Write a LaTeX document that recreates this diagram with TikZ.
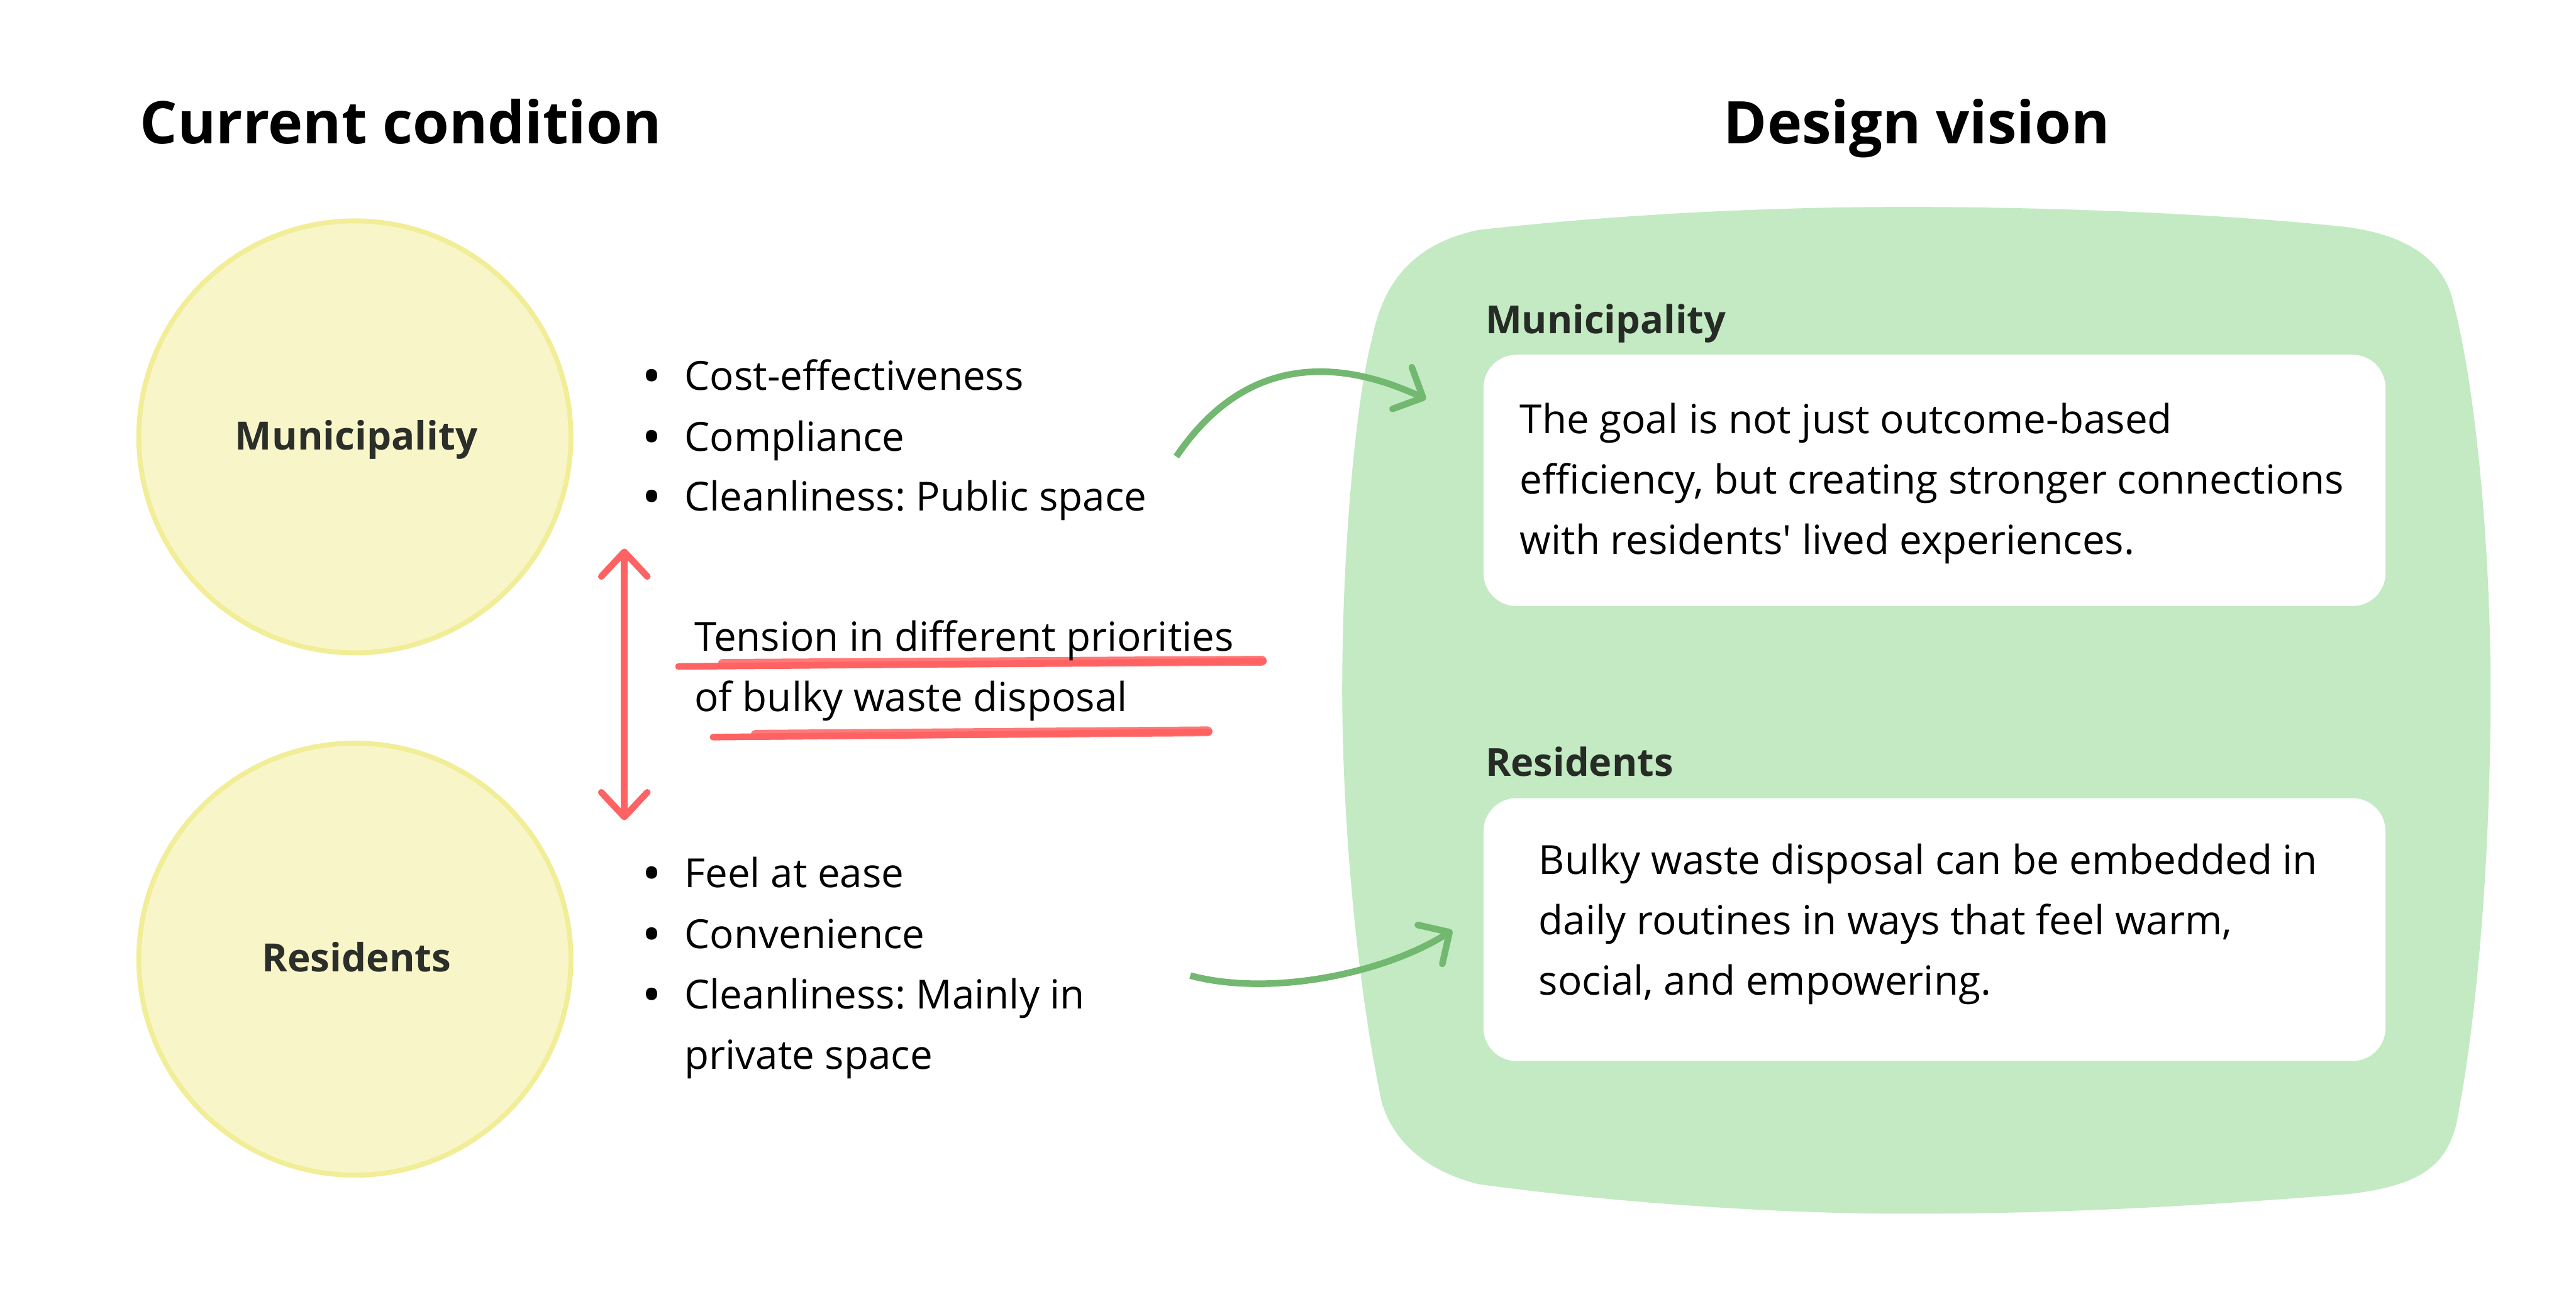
\documentclass[tikz,border=0pt]{standalone}
\usepackage{fontspec}
\setmainfont{Open Sans}[Ligatures=TeXOff]
\usetikzlibrary{arrows.meta}
\definecolor{circfill}{HTML}{F8F6C9}
\definecolor{circline}{HTML}{F2ED97}
\definecolor{blobfill}{HTML}{C3EAC3}
\definecolor{garrow}{HTML}{72B870}
\definecolor{rred}{HTML}{FF6262}
\definecolor{lbl}{HTML}{262B25}
\definecolor{clbl}{HTML}{2B2E29}
\frenchspacing
\begin{document}
\begin{tikzpicture}[x=1pt,y=-1pt,
  titletext/.style={anchor=base west, inner sep=0, font=\fontsize{35.8}{40}\selectfont\bfseries},
  bodytext/.style={anchor=base west, inner sep=0, font=\fontsize{24.4}{30}\selectfont},
  bullettext/.style={anchor=base west, inner sep=0, font=\fontsize{24.4}{30}\selectfont\bfseries},
  labtext/.style={anchor=base west, inner sep=0, text=lbl, font=\fontsize{23.5}{30}\selectfont\bfseries},
  circlabel/.style={anchor=base, inner sep=0, text=clbl, font=\fontsize{23.7}{30}\selectfont\bfseries},
  circ/.style={circle, fill=circfill, draw=circline, line width=3pt, minimum size=263pt, inner sep=0},
  wbox/.style={fill=white, rounded corners=20pt, minimum width=549pt, inner sep=0},
  garr/.style={draw=garrow, line width=4pt, -{Straight Barb[length=14pt,width=28pt,line cap=round,line join=round]}},
  rarr/.style={draw=rred, line width=4pt, line cap=round, {Straight Barb[length=15pt,width=28pt,line cap=round,line join=round]}-{Straight Barb[length=15pt,width=28pt,line cap=round,line join=round]}},
  brush/.style={draw=rred, line cap=round}
]
\useasboundingbox (0,0) rectangle (1568,797);
\fill[white] (0,0) rectangle (1568,797);

% titles
\node[titletext] (tcur) at (85,87.6) {Current condition};
\node[titletext] (tdes) at (1049,87.6) {Design vision};

% circles
\node[circ] (cmun) at (216,266) {};
\node[circ] (cres) at (216,584) {};
\node[circlabel] (lmun) at (217,273.8) {Municipality};
\node[circlabel] (lres) at (217,591.8) {Residents};

% bullets top
\node[bullettext] (b1) at (392,237.7) {•};
\node[bullettext] (b2) at (392,274.7) {•};
\node[bullettext] (b3) at (392,311.2) {•};
\node[bodytext] (m1) at (416.5,237.7) {Cost-effectiveness};
\node[bodytext] (m2) at (416.5,274.7) {Compliance};
\node[bodytext] (m3) at (416.5,311.2) {Cleanliness: Public space};

% bullets bottom
\node[bullettext] (b4) at (392,540.5) {•};
\node[bullettext] (b5) at (392,577.3) {•};
\node[bullettext] (b6) at (392,614.1) {•};
\node[bodytext] (r1) at (416.5,540.5) {Feel at ease};
\node[bodytext] (r2) at (416.5,577.3) {Convenience};
\node[bodytext] (r3) at (416.5,614.1) {Cleanliness: Mainly in};
\node[bodytext] (r4) at (416.5,650.9) {private space};

% tension
\coordinate (rtop) at (380,334);
\coordinate (rbot) at (380,499.4);
\draw[rarr] (rtop) -- (rbot);
\draw[brush, line width=4pt] (413,405.8) -- (600,404.2) -- (769,402.6);
\draw[brush, line width=6pt, opacity=0.85] (440,404.2) -- (768,402.3);
\draw[brush, line width=4pt] (434,448.8) -- (600,447.2) -- (736,445.6);
\draw[brush, line width=6pt, opacity=0.85] (460,447.4) -- (735,445.3);
\node[bodytext] (ten1) at (422.5,396.3) {Tension in different priorities};
\node[bodytext] (ten2) at (422.5,433) {of bulky waste disposal};

% green blob
\fill[blobfill] (900,140) .. controls (990,130) and (1080,126) .. (1160,126)
  .. controls (1260,126) and (1360,131) .. (1426,138)
  .. controls (1470,143) and (1488,162) .. (1493,183)
  .. controls (1508,240) and (1516,340) .. (1516,420)
  .. controls (1516,520) and (1508,620) .. (1495,685)
  .. controls (1488,712) and (1470,722) .. (1430,727)
  .. controls (1330,735) and (1250,739) .. (1160,739)
  .. controls (1080,739) and (980,732) .. (900,721)
  .. controls (868,713) and (848,695) .. (841,671)
  .. controls (826,600) and (817,500) .. (817,420)
  .. controls (817,330) and (826,240) .. (835,207)
  .. controls (842,170) and (862,148) .. (900,140) -- cycle;

\node[labtext] (vmun) at (904,203.2) {Municipality};
\node[labtext] (vres) at (904,472.5) {Residents};

\node[wbox, minimum height=153pt] (box1) at (1177.5,292.5) {};
\node[wbox, minimum height=160pt] (box2) at (1177.5,566) {};

\node[bodytext] (g1) at (925,264.1) {The goal is not just outcome-based};
\node[bodytext] (g2) at (925,300.8) {efficiency, but creating stronger connections};
\node[bodytext] (g3) at (925,337.6) {with residents' lived experiences.};

\node[bodytext] (h1) at (936.5,532.3) {Bulky waste disposal can be embedded in};
\node[bodytext] (h2) at (936.5,569.1) {daily routines in ways that feel warm,};
\node[bodytext] (h3) at (936.5,605.9) {social, and empowering.};

% green arrows
\coordinate (ga1s) at (716,278);
\coordinate (ga1e) at (868,243);
\coordinate (ga2s) at (724.5,594);
\coordinate (ga2e) at (884,566.5);
\draw[garr] (ga1s) .. controls (758,216) and (814,218) .. (ga1e);
\draw[garr] (ga2s) .. controls (773,607) and (842,593) .. (ga2e);
\end{tikzpicture}
\end{document}
